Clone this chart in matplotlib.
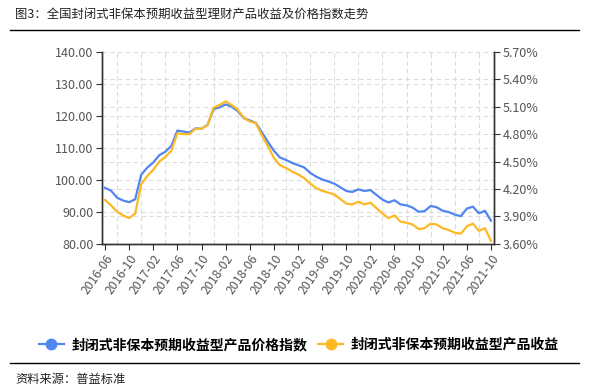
import matplotlib
matplotlib.use("Agg")
import matplotlib.pyplot as plt
from matplotlib.lines import Line2D
import matplotlib.ticker as mticker
import pandas as pd

plt.rcParams['font.family'] = ['Noto Sans CJK SC', 'DejaVu Sans']

months = pd.period_range('2016-06', '2021-10', freq='M').strftime('%Y-%m').tolist()

price_index = [97.5, 96.6, 94.4, 93.5, 93.0, 93.9, 101.6, 103.8, 105.4, 107.7,
               108.8, 110.6, 115.4, 115.1, 114.8, 116.1, 116.0, 117.2, 122.1, 122.7,
               123.6, 122.9, 121.5, 119.3, 118.6, 117.8, 114.9, 111.9, 109.1, 107.0,
               106.2, 105.3, 104.6, 103.9, 102.2, 101.0, 100.1, 99.5, 98.8, 97.7,
               96.5, 96.2, 97.0, 96.5, 96.8, 95.3, 93.8, 92.9, 93.6, 92.3,
               92.0, 91.3, 90.0, 90.2, 91.8, 91.4, 90.3, 89.9, 89.1, 88.6,
               91.0, 91.6, 89.5, 90.3, 87.2]

yield_pct = [4.08, 4.02, 3.95, 3.91, 3.88, 3.93, 4.25, 4.34, 4.41, 4.50,
             4.55, 4.62, 4.81, 4.80, 4.80, 4.86, 4.86, 4.90, 5.09, 5.12,
             5.16, 5.12, 5.07, 4.98, 4.94, 4.92, 4.79, 4.67, 4.54, 4.46,
             4.43, 4.39, 4.36, 4.32, 4.26, 4.21, 4.18, 4.16, 4.14, 4.09,
             4.04, 4.03, 4.06, 4.03, 4.05, 3.99, 3.93, 3.88, 3.91, 3.84,
             3.83, 3.81, 3.76, 3.77, 3.82, 3.81, 3.77, 3.75, 3.72, 3.71,
             3.79, 3.82, 3.74, 3.77, 3.63]

left_ticks = [80, 90, 100, 110, 120, 130, 140]
right_ticks = [3.60, 3.90, 4.20, 4.50, 4.80, 5.10, 5.40, 5.70]

title = "图3：全国封闭式非保本预期收益型理财产品收益及价格指数走势"
name_price = "封闭式非保本预期收益型产品价格指数"
name_yield = "封闭式非保本预期收益型产品收益"
source = "资料来源：普益标准"

BLUE = "#4f86f0"
YELLOW = "#fdb924"
GRID = "#dcdcdc"
TXT = "#555555"

W, H = 594, 391
fig = plt.figure(figsize=(W / 100, H / 100), dpi=100)
ax = fig.add_axes([102 / W, 1 - 243.7 / H, (494 - 102) / W, (243.7 - 52) / H])
ax2 = ax.twinx()

x = list(range(len(months)))
ymin, ymax = 80, 140
rmin, rmax = 3.60, 5.70

ax.set_xlim(-0.5, len(months) - 0.5)
ax.set_ylim(ymin, ymax)
ax2.set_ylim(rmin, rmax)

# grids: vertical at midpoints between labelled months, horizontal at both axes' ticks
ax.set_xticks(x[::4])
ax.set_xticklabels(months[::4], rotation=55, ha='right', rotation_mode='anchor',
                   fontsize=8.8, color=TXT)
ax.set_xticks(x[2::4], minor=True)
ax.set_yticks(left_ticks)
ax.set_yticklabels([f"{v:.2f}" for v in left_ticks], fontsize=9, color=TXT)
ax.set_yticks([ymin + (r - rmin) / (rmax - rmin) * (ymax - ymin) for r in right_ticks], minor=True)
ax.grid(True, which='major', axis='y', color=GRID, linestyle=(0, (4, 3)), linewidth=0.8)
ax.grid(True, which='minor', axis='both', color=GRID, linestyle=(0, (4, 3)), linewidth=0.8)
ax.tick_params(axis='x', which='minor', length=0)
ax.tick_params(axis='y', which='minor', length=0)
ax.tick_params(axis='x', which='major', length=4, color='#333333', pad=2)
ax.tick_params(axis='y', which='major', length=4, color='#333333', pad=2)

ax2.set_yticks(right_ticks)
ax2.yaxis.set_major_formatter(mticker.FuncFormatter(lambda v, p: f"{v:.2f}%"))
ax2.tick_params(axis='y', length=4, color='#333333', labelsize=9, labelcolor=TXT, pad=2)

for a in (ax, ax2):
    a.spines['top'].set_visible(False)
    for s in ('left', 'right', 'bottom'):
        a.spines[s].set_color('#333333')
        a.spines[s].set_linewidth(1.0)

ax.set_axisbelow(True)
ax.plot(x, price_index, color=BLUE, linewidth=1.6, zorder=3)
ax2.plot(x, yield_pct, color=YELLOW, linewidth=1.6, zorder=3)

# title and separators
fig.text(15 / W, 1 - 14 / H, title, fontsize=8.9, color='#222222', va='center', ha='left')
fig.add_artist(Line2D([10 / W, 579 / W], [1 - 29.5 / H] * 2, color='black', linewidth=1.0))
fig.add_artist(Line2D([10 / W, 579 / W], [1 - 363 / H] * 2, color='black', linewidth=1.0))
fig.text(15 / W, 1 - 380 / H, source, fontsize=8.8, color='#222222', va='center', ha='left')

handles = [Line2D([], [], color=BLUE, marker='o', markersize=7.5, linewidth=1.6),
           Line2D([], [], color=YELLOW, marker='o', markersize=7.5, linewidth=1.6)]
fig.legend(handles, [name_price, name_yield], loc='center', bbox_to_anchor=(299 / W, 1 - 345 / H),
           ncol=2, frameon=False, handlelength=1.8, columnspacing=0.8,
           handletextpad=0.55, prop={'weight': 'bold', 'size': 10})

fig.savefig("out.png", dpi=100)
